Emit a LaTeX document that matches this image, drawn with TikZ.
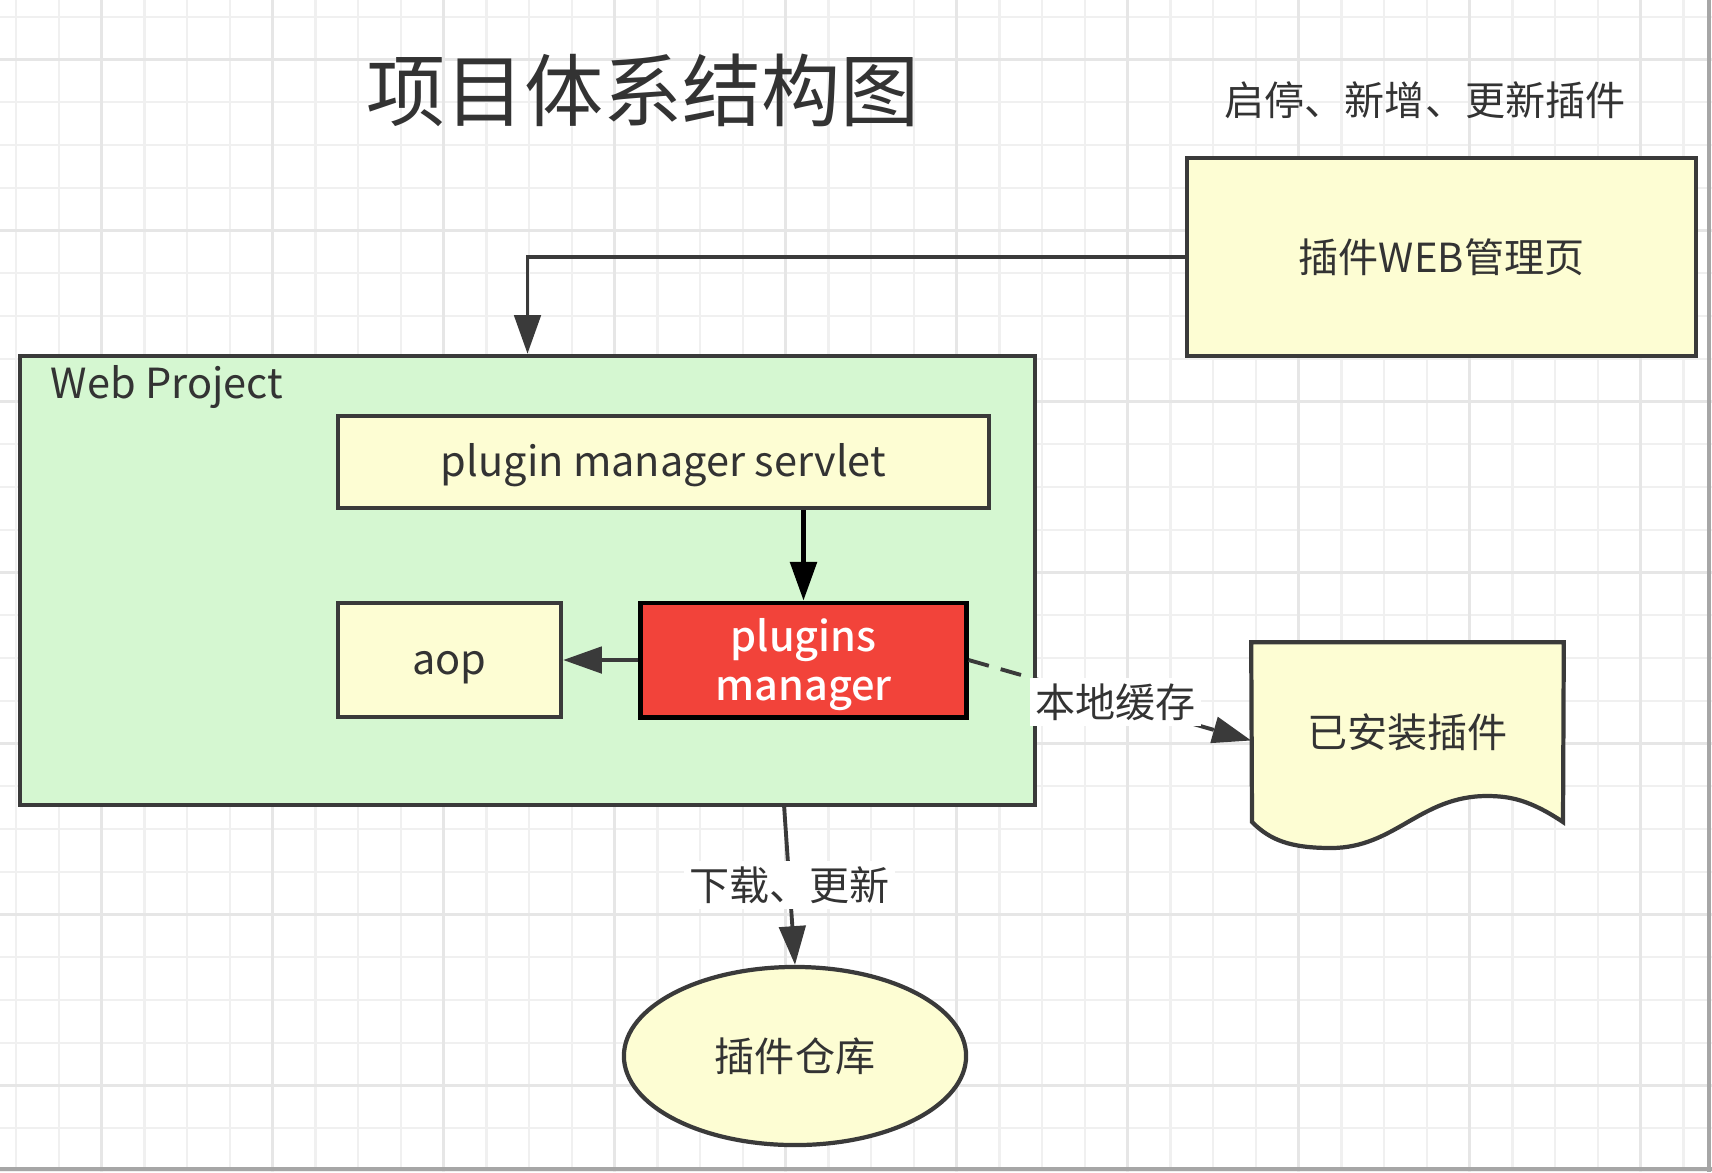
\documentclass[tikz,border=0pt]{standalone}
\usepackage{fontspec}
\setmainfont{Noto Sans CJK SC}
\newfontfamily\medfont{Noto Sans CJK SC Medium}
\usetikzlibrary{arrows.meta,shapes.geometric}
\definecolor{boxyellow}{HTML}{FDFDD3}
\definecolor{projgreen}{HTML}{D5F7D1}
\definecolor{mgrred}{HTML}{F2433A}
\definecolor{boxline}{HTML}{3A3A3A}
\definecolor{inktext}{HTML}{333333}
\definecolor{gridthin}{HTML}{F0F0F0}
\definecolor{gridthick}{HTML}{E6E6E6}
\tikzset{
  cjk/.style={font=\fontsize{11.4pt}{14pt}\selectfont},
  latin/.style={font=\fontsize{11.8pt}{13.8pt}\selectfont, text height=9pt, text depth=3.2pt},
  boxlatin/.style={latin, text height=11.5pt},
  box/.style={
    draw=boxline,
    line width=1.2pt,
    fill=boxyellow,
    text=inktext,
    inner sep=0pt
  },
  project/.style={box, fill=projgreen},
  hot/.style={box, draw=black, line width=1.4pt, fill=mgrred, text=white, align=center},
  store/.style={box, ellipse},
  flow/.style={-{Triangle[length=11pt,width=7.5pt]}, line width=1.1pt, draw=boxline},
  cache/.style={flow, dash pattern=on 6pt off 3.5pt},
  edgelabel/.style={cjk, text=inktext, fill=white, inner sep=1.5pt},
  minorline/.style={draw=gridthin, line width=0.6pt},
  majorline/.style={draw=gridthick, line width=0.9pt}
}
\newcommand{\drawgrid}{
  \foreach \k in {0,...,39} {\draw[minorline] ({16.2+42.75*\k},0) -- ++(0,1172);}
  \foreach \k in {0,...,27} {\draw[minorline] (0,{16.55+42.75*\k}) -- ++(1712,0);}
  \foreach \k in {2,6,...,38} {\draw[majorline] ({16.2+42.75*\k},0) -- ++(0,1172);}
  \foreach \k in {1,5,...,25} {\draw[majorline] (0,{16.55+42.75*\k}) -- ++(1712,0);}
}

\begin{document}
\begin{tikzpicture}[x=0.01cm, y=-0.01cm]
  \fill[white] (0,0) rectangle (1712,1172);
  \useasboundingbox (0,0) rectangle (1712,1172);
  \drawgrid
  \draw[gray!70, line width=1pt] (1709,0) -- (1709,1172);
  \draw[gray!70, line width=1pt] (0,1169) -- (1712,1169);

  % heading and hint
  \node[text=inktext, font=\fontsize{22.5pt}{26pt}\selectfont] (title) at (643,90) {项目体系结构图};
  \node[cjk, text=inktext] (hint) at (1425,100) {启停、新增、更新插件};

  % boxes
  \node[box, cjk, minimum width=5.09cm, minimum height=1.98cm] (webui) at (1441.5,257) {插件WEB管理页};
  \node[project, minimum width=10.15cm, minimum height=4.49cm] (wp) at (527.5,580.5) {};
  \node[latin, text=inktext, anchor=west, inner sep=0pt] (wptitle) at (50,388) {Web Project};
  \node[box, boxlatin, minimum width=6.51cm, minimum height=0.92cm] (servlet) at (663.5,462) {plugin manager servlet};
  \node[box, boxlatin, minimum width=2.23cm, minimum height=1.14cm] (aop) at (449.5,660) {aop};
  \node[hot, font=\fontsize{11.8pt}{13.8pt}\medfont, minimum width=3.25cm, minimum height=1.14cm] (mgr) at (803.5,660) {\rule{0pt}{12pt}plugins\\manager};
  \node[minimum width=3.11cm, minimum height=1.79cm, inner sep=0pt] (installed) at (1407.5,732.5) {};
  \node[store, cjk, minimum width=3.42cm, minimum height=1.78cm] (repo) at (795,1056) {插件仓库};
  \coordinate (wpout) at (784,805);

  % wavy document outline
  \filldraw[draw=boxline, line width=1.2pt, fill=boxyellow]
    (installed.north west) -- (installed.north east) -- (1563,822)
    .. controls (1530,800) and (1510,796) .. (1487,796)
    .. controls (1420,796) and (1395,848) .. (1331,848)
    .. controls (1290,848) and (1270,840) .. (1252,822) -- cycle;
  \node[cjk, text=inktext] (installedtext) at (installed.center) {已安装插件};

  % connectors
  \draw[flow] (webui.west) -| (wp.north);
  \draw[flow, draw=black, line width=1.3pt] (servlet.south -| mgr.north) -- (mgr.north);
  \draw[flow] (mgr.west) -- (aop.east);
  \draw[cache] (mgr.east) -- node[edgelabel, pos=0.52] {本地缓存} ([yshift=-0.08cm]installed.west);
  \draw[flow] (wpout) -- node[edgelabel] {下载、更新} (repo.north);
\end{tikzpicture}
\end{document}
